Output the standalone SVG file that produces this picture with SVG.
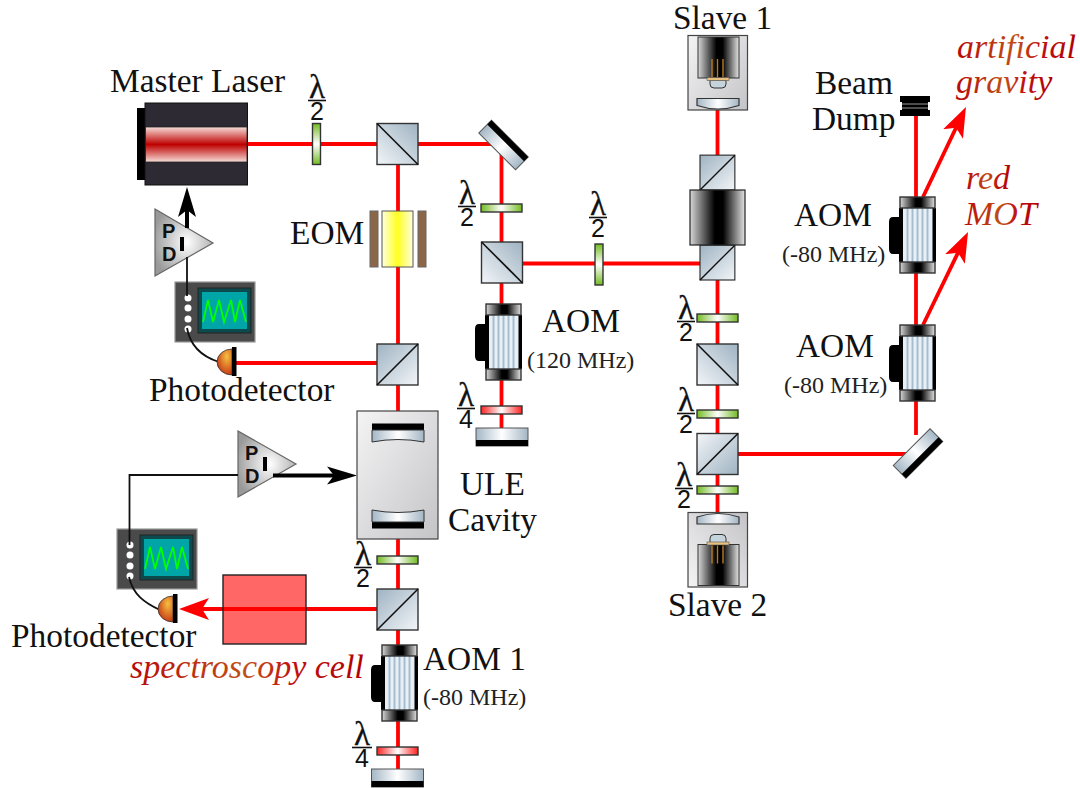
<svg xmlns="http://www.w3.org/2000/svg" width="1080" height="789" viewBox="0 0 1080 789">
<style>
.t{font-family:"Liberation Serif","Times New Roman",serif;font-size:33.400px;fill:#111}
.s{font-family:"Liberation Serif","Times New Roman",serif;font-size:24px;fill:#222}
.i{font-family:"Liberation Serif","Times New Roman",serif;font-style:italic;font-size:34px;fill:url(#txt)}
.lam{font-family:"Liberation Serif","DejaVu Serif",serif;font-size:33px;text-anchor:middle;fill:#111;stroke:#111;stroke-width:.3}
.num{font-family:"Liberation Sans",Arial,sans-serif;font-size:25px;text-anchor:middle;fill:#111}
.bar{stroke:#111;stroke-width:1.6;fill:none}
.pid{font-family:"Liberation Sans",Arial,sans-serif;font-weight:bold;font-size:20px;fill:#111}
.beam{stroke:#f00;stroke-width:3.8;fill:none}
.wire{stroke:#111;stroke-width:1.8;fill:none}
.thick{stroke:#000;stroke-width:4;fill:none}
.edge{stroke:#333;stroke-width:1.4}
</style>
<defs>
<linearGradient id="txt" x1="0" y1="0" x2="1" y2="0"><stop offset="0" stop-color="#b80808"/><stop offset=".5" stop-color="#c05018"/><stop offset=".7" stop-color="#c01010"/><stop offset="1" stop-color="#b00000"/></linearGradient>
<linearGradient id="cubeG" x1="0" y1="1" x2="1" y2="0"><stop offset="0" stop-color="#f2f5f8"/><stop offset="1" stop-color="#9fb3c2"/></linearGradient>
<linearGradient id="gh" x1="0" y1="0" x2="1" y2="0"><stop offset="0" stop-color="#72bb22"/><stop offset=".5" stop-color="#fff"/><stop offset="1" stop-color="#72bb22"/></linearGradient>
<linearGradient id="gv" x1="0" y1="0" x2="0" y2="1"><stop offset="0" stop-color="#72bb22"/><stop offset=".5" stop-color="#fff"/><stop offset="1" stop-color="#72bb22"/></linearGradient>
<linearGradient id="rh" x1="0" y1="0" x2="1" y2="0"><stop offset="0" stop-color="#f22"/><stop offset=".5" stop-color="#fff"/><stop offset="1" stop-color="#f22"/></linearGradient>
<linearGradient id="steel" x1="0" y1="0" x2="1" y2="0"><stop offset="0" stop-color="#a3b6c5"/><stop offset=".5" stop-color="#fff"/><stop offset="1" stop-color="#a3b6c5"/></linearGradient>
<linearGradient id="dark" x1="0" y1="0" x2="1" y2="0"><stop offset="0" stop-color="#d8d8d8"/><stop offset=".45" stop-color="#000"/><stop offset=".6" stop-color="#000"/><stop offset="1" stop-color="#e4e4e4"/></linearGradient>
<linearGradient id="laser" x1="0" y1="0" x2="0" y2="1"><stop offset="0" stop-color="#f6ddd8"/><stop offset=".5" stop-color="#bd0000"/><stop offset="1" stop-color="#f6ddd8"/></linearGradient>
<linearGradient id="yel" x1="0" y1="0" x2="1" y2="0"><stop offset="0" stop-color="#ffffe0"/><stop offset=".5" stop-color="#ffff20"/><stop offset="1" stop-color="#ffffe0"/></linearGradient>
<linearGradient id="box" x1="0" y1="0" x2="1" y2="1"><stop offset="0" stop-color="#f4f4f4"/><stop offset="1" stop-color="#c4c4c8"/></linearGradient>
<radialGradient id="pidG" cx=".55" cy=".5" r=".6"><stop offset="0" stop-color="#fff"/><stop offset="1" stop-color="#999"/></radialGradient>
<radialGradient id="det" cx=".65" cy=".3" r=".8"><stop offset="0" stop-color="#f6c040"/><stop offset="1" stop-color="#c02a10"/></radialGradient>
<marker id="ar" viewBox="0 -12 30 24" refX="15" refY="0" markerWidth="30" markerHeight="24" markerUnits="userSpaceOnUse" orient="auto"><path d="M30,0L0,-11L7,0L0,11z" fill="#f00"/></marker>
<marker id="ak" viewBox="0 -12 30 24" refX="15" refY="0" markerWidth="30" markerHeight="24" markerUnits="userSpaceOnUse" orient="auto"><path d="M30,0L0,-9L7,0L0,9z" fill="#000"/></marker>
<g id="cube"><rect width="41" height="41" fill="url(#cubeG)" class="edge"/><path d="M0,0L41,41" stroke="#111" stroke-width="1.6"/></g>
<rect id="wpG" width="41" height="8" fill="url(#gh)" class="edge"/>
<rect id="wpV" width="8" height="41" fill="url(#gv)" class="edge"/>
<rect id="wpR" width="41" height="8" fill="url(#rh)" class="edge"/>
<g id="mirror"><rect x="-26" y="-9" width="52" height="18" fill="url(#steel)" stroke="#555" stroke-width="1"/><rect x="-26" y="-9" width="52" height="6" fill="#000"/></g>
<g id="aom">
<path d="M0,20h-7q-4,0 -4,5v27q0,5 4,5h7z" fill="#000"/>
<rect x="-1" y="11" width="37" height="54" fill="#000"/>
<rect x="3" y="11" width="29.500" height="54" fill="#e8f0f6"/>
<path d="M7.500,11v54M12.500,11v54M17.500,11v54M22.500,11v54M27.500,11v54" stroke="#a6bdd0" stroke-width="2"/>
<rect y="0" width="35" height="11" fill="url(#dark)" class="edge"/>
<rect y="65" width="35" height="11" fill="url(#dark)" class="edge"/>
</g>
<g id="slave">
<rect x="688" y="35.500" width="59.500" height="74.500" fill="url(#box)" stroke="#444" stroke-width="1.2"/>
<rect x="698" y="37" width="41" height="41" fill="url(#dark)" stroke="#333" stroke-width="1"/>
<path d="M712,59v18M717.500,59v18M723,59v18" stroke="#b87a20" stroke-width="1.4"/>
<path d="M710,80h16v4q0,4 -4,4h-8q-4,0 -4,-4z" fill="#c5d3dd" stroke="#333" stroke-width="1"/>
<rect x="707" y="77.500" width="22" height="3" fill="#e8c080" stroke="#555" stroke-width=".6"/>
<path d="M697,98.500h42v7q-21,7 -42,0z" fill="url(#steel)" stroke="#333" stroke-width="1.2"/>
</g>
<g id="scope">
<rect x="175" y="282" width="80" height="60" fill="#4a4a4a" stroke="#999" stroke-width="1.2"/>
<rect x="198" y="288" width="53" height="45" fill="#0d4a4e" stroke="#222"/>
<rect x="202" y="292" width="45" height="37" fill="#00a5a8"/>
<path d="M203,322L208,300L213,322L219,300L224,322L231,300L235,322L240,300L246,322" fill="none" stroke="#0f0" stroke-width="1.8"/>
<circle cx="188" cy="298" r="3.500" fill="#fff"/><circle cx="188" cy="308" r="3.500" fill="#fff"/><circle cx="188" cy="319" r="3.500" fill="#fff"/><circle cx="188" cy="329" r="3.500" fill="#fff"/>
</g>
<g id="detector"><path d="M232,349A15,13 0 0 0 232,375z" fill="url(#det)" stroke="#333" stroke-width=".8"/><rect x="232" y="347" width="4.500" height="29" fill="#000"/></g>
</defs>
<rect width="1080" height="789" fill="#fff"/>

<g id="pid-1"><path d="M155,209L213,243L155,276z" fill="url(#pidG)" stroke="#666" stroke-width="1.2"/><text class="pid" x="162" y="238">P</text><text class="pid" x="162" y="261">D</text><rect x="180" y="237" width="4" height="14" fill="#000"/></g>
<g id="pid-2"><path d="M238,431L296,464L238,497z" fill="url(#pidG)" stroke="#666" stroke-width="1.2"/><text class="pid" x="245" y="460">P</text><text class="pid" x="245" y="483">D</text><rect x="263" y="457" width="4" height="14" fill="#000"/></g>
<g id="scope-1"><use href="#scope"/></g>
<g id="scope-2"><use href="#scope" transform="translate(-58,247)"/></g>

<g id="connectors">
<path class="beam" d="M247,144H505M398,144V411M501.500,144V432M236,363H398M522,263.500H717M717.500,108V512M916,108V435M738,454H916M398,539V770"/>
<path class="beam" d="M398,609H194" marker-end="url(#ar)"/>
<path class="beam" d="M923,197L959.500,120.500" marker-end="url(#ar)"/>
<path class="beam" d="M923,325L961.500,245.500" marker-end="url(#ar)"/>
<path class="wire" d="M187,257V296M187,328C190,345 200,356 219,362"/>
<path class="wire" d="M238,475H129.500V545M129,577C133,595 145,603 160,610"/>
<path class="thick" d="M187,228V202" marker-end="url(#ak)"/>
<path class="thick" d="M273,475.500H342" marker-end="url(#ak)"/>
</g>

<g id="master-laser"><rect x="137" y="108" width="9" height="72" fill="#000"/><rect x="145" y="103" width="102.500" height="82" fill="#2e2a33" stroke="#111"/><rect x="145.500" y="127" width="101.500" height="35" fill="url(#laser)" stroke="#222" stroke-width=".8"/><text class="t" x="110" y="92">Master Laser</text></g>
<g id="wp-1"><use href="#wpV" x="312.500" y="123.500"/><g transform="translate(317,100)"><text class="lam" y="-2">λ</text><path class="bar" d="M-9,0.500H9"/><text class="num" y="20">2</text></g></g>
<g id="pbs-1"><use href="#cube" transform="translate(377,123.500)"/></g>
<g id="eom"><rect x="370" y="211" width="8" height="56" fill="#8b6647" stroke="#666"/><rect x="382" y="211" width="31" height="56" fill="url(#yel)" stroke="#555"/><rect x="418" y="211" width="8" height="56" fill="#8b6647" stroke="#666"/><text class="t" x="290" y="244">EOM</text></g>
<g id="pbs-2"><use href="#cube" transform="translate(377,385) rotate(-90)"/></g>
<g id="detector-1"><use href="#detector"/><text class="t" x="149" y="401">Photodetector</text></g>
<g id="mirror-1"><use href="#mirror" transform="translate(503.500,145) rotate(45)"/></g>
<g id="wp-2"><use href="#wpG" x="481" y="204"/><g transform="translate(467,206)"><text class="lam" y="-2">λ</text><path class="bar" d="M-9,0.500H9"/><text class="num" y="20">2</text></g></g>
<g id="pbs-3"><use href="#cube" transform="translate(481.500,242)"/></g>
<g id="wp-3"><use href="#wpV" x="595" y="244"/><g transform="translate(598,217)"><text class="lam" y="-2">λ</text><path class="bar" d="M-9,0.500H9"/><text class="num" y="20">2</text></g></g>
<g id="aom-120"><use href="#aom" x="486" y="304"/><text class="t" x="542" y="332">AOM</text><text class="s" x="527" y="368">(120 MHz)</text></g>
<g id="wp-4"><use href="#wpR" x="481" y="406"/><g transform="translate(466,408)"><text class="lam" y="-2">λ</text><path class="bar" d="M-9,0.500H9"/><text class="num" y="20">4</text></g></g>
<g id="mirror-2"><use href="#mirror" transform="translate(502,437) rotate(180)"/></g>

<g id="slave-1"><use href="#slave"/><text class="t" x="673" y="29">Slave 1</text></g>
<g id="isolator"><use href="#cube" transform="translate(700,190) rotate(-90) scale(.85)"/><use href="#cube" transform="translate(700,280) rotate(-90) scale(.85)"/><rect x="690" y="190" width="55" height="55" fill="url(#dark)" stroke="#222" stroke-width="1.2"/></g>
<g id="wp-5"><use href="#wpG" x="697" y="314"/><g transform="translate(686,321)"><text class="lam" y="-2">λ</text><path class="bar" d="M-9,0.500H9"/><text class="num" y="20">2</text></g></g>
<g id="pbs-4"><use href="#cube" transform="translate(697,344)"/></g>
<g id="wp-6"><use href="#wpG" x="697" y="410"/><g transform="translate(686,413)"><text class="lam" y="-2">λ</text><path class="bar" d="M-9,0.500H9"/><text class="num" y="20">2</text></g></g>
<g id="pbs-5"><use href="#cube" transform="translate(738,433.500) rotate(90)"/></g>
<g id="wp-7"><use href="#wpG" x="697" y="486"/><g transform="translate(684,488)"><text class="lam" y="-2">λ</text><path class="bar" d="M-9,0.500H9"/><text class="num" y="20">2</text></g></g>
<g id="slave-2"><use href="#slave" transform="translate(0,622.500) scale(1,-1)"/><text class="t" x="668" y="616">Slave 2</text></g>
<g id="mirror-3"><use href="#mirror" transform="translate(918,453.500) rotate(135)"/></g>
<g id="aom-top"><use href="#aom" x="900" y="197"/><text class="t" x="794" y="226">AOM</text><text class="s" x="782" y="262">(-80 MHz)</text></g>
<g id="aom-low"><use href="#aom" x="900" y="325"/><text class="t" x="796" y="357">AOM</text><text class="s" x="784" y="393">(-80 MHz)</text></g>
<g id="beam-dump"><rect x="900" y="96" width="30" height="6" fill="#000"/><rect x="902" y="102" width="26" height="8" fill="#000"/><path d="M902,104H928M902,108H928" stroke="#999" stroke-width="1"/><rect x="900" y="110" width="30" height="6" fill="#000"/><text class="t" x="815" y="94">Beam</text><text class="t" x="812" y="130">Dump</text></g>
<g id="label-gravity"><text class="i" x="957" y="58">artificial</text><text class="i" x="956" y="93">gravity</text></g>
<g id="label-mot"><text class="i" x="966" y="189">red</text><text class="i" x="965" y="225">MOT</text></g>

<g id="cavity"><rect x="357" y="411" width="81" height="128" fill="url(#box)" stroke="#444" stroke-width="1.2"/><rect x="372" y="423.500" width="52" height="6.500" fill="#000"/><path d="M372,430h52v12q-26,-5 -52,0z" fill="url(#steel)" stroke="#333" stroke-width="1"/><rect x="372" y="522" width="52" height="6.500" fill="#000"/><path d="M372,522h52v-12q-26,5 -52,0z" fill="url(#steel)" stroke="#333" stroke-width="1"/><text class="t" x="460" y="495">ULE</text><text class="t" x="448" y="531">Cavity</text></g>
<g id="wp-8"><use href="#wpG" x="377" y="556"/><g transform="translate(363,567)"><text class="lam" y="-2">λ</text><path class="bar" d="M-9,0.500H9"/><text class="num" y="20">2</text></g></g>
<g id="pbs-6"><use href="#cube" transform="translate(377,630) rotate(-90)"/></g>
<g id="aom-1"><use href="#aom" x="382" y="645"/><text class="t" x="423" y="670">AOM 1</text><text class="s" x="423" y="705">(-80 MHz)</text></g>
<g id="wp-9"><use href="#wpR" x="377" y="747"/><g transform="translate(362,747)"><text class="lam" y="-2">λ</text><path class="bar" d="M-10,0.500H10"/><text class="num" y="20">4</text></g></g>
<g id="mirror-4"><use href="#mirror" transform="translate(397.500,778) rotate(180)"/></g>
<g id="detector-2"><use href="#detector" transform="translate(-59,247)"/><text class="t" x="11" y="647">Photodetector</text></g>
<g id="cell"><rect x="223" y="575" width="83" height="69" fill="#f00" fill-opacity=".6" stroke="#222" stroke-width="1.4"/><text class="i" x="130" y="678">spectroscopy cell</text></g>
</svg>
